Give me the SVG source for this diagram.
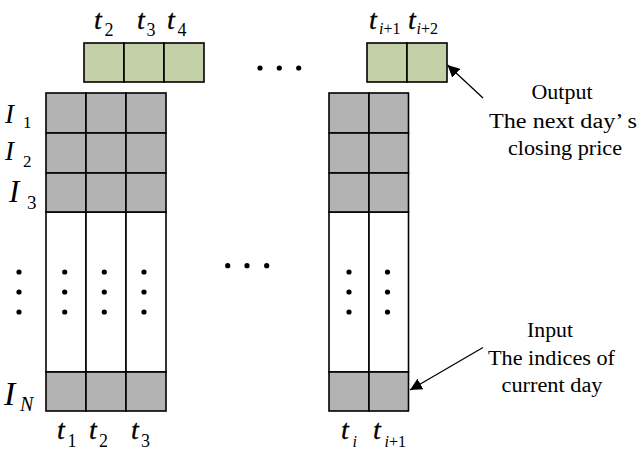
<svg xmlns="http://www.w3.org/2000/svg" width="639" height="451" viewBox="0 0 639 451">
<defs>
<style>
.g{fill:#b3b3b3;stroke:#000;stroke-width:1.6}
.w{fill:#fff;stroke:#000;stroke-width:1.6}
.gr{fill:#c4d1a8;stroke:#000;stroke-width:1.6}
.m{font-family:"Liberation Serif","Times New Roman",serif;font-style:italic;fill:#000}
.t{font-family:"Liberation Serif","Times New Roman",serif;font-style:italic;fill:#000;font-size:28px;stroke:#000;stroke-width:0.3}
.n{font-family:"Liberation Serif","Times New Roman",serif;font-style:normal;fill:#000}
.lbl{font-family:"Liberation Serif","Times New Roman",serif;font-size:20px;fill:#000;text-anchor:middle}
.d{fill:#000}
.c{stroke:#000;stroke-width:1.3;fill:none}
</style>
<marker id="ah" viewBox="0 0 10 10" refX="10" refY="5" markerWidth="12" markerHeight="12" markerUnits="userSpaceOnUse" orient="auto">
<path d="M0,0 L10,5 L0,10 z" fill="#000"/>
</marker>
</defs>
<rect width="639" height="451" fill="#fff"/>

<g id="output-left">
<rect class="gr" x="84" y="43" width="40" height="39"/>
<rect class="gr" x="124" y="43" width="40" height="39"/>
<rect class="gr" x="164" y="43" width="40" height="39"/>
</g>
<g id="output-right">
<rect class="gr" x="367" y="43" width="40" height="39"/>
<rect class="gr" x="407" y="43" width="40" height="39"/>
</g>

<g id="input-left">
<rect class="w" x="46" y="212" width="40" height="160"/>
<rect class="w" x="86" y="212" width="40" height="160"/>
<rect class="w" x="126" y="212" width="40" height="160"/>
<rect class="g" x="46" y="93" width="40" height="40"/>
<rect class="g" x="86" y="93" width="40" height="40"/>
<rect class="g" x="126" y="93" width="40" height="40"/>
<rect class="g" x="46" y="133" width="40" height="40"/>
<rect class="g" x="86" y="133" width="40" height="40"/>
<rect class="g" x="126" y="133" width="40" height="40"/>
<rect class="g" x="46" y="173" width="40" height="39"/>
<rect class="g" x="86" y="173" width="40" height="39"/>
<rect class="g" x="126" y="173" width="40" height="39"/>
<rect class="g" x="46" y="372" width="40" height="39"/>
<rect class="g" x="86" y="372" width="40" height="39"/>
<rect class="g" x="126" y="372" width="40" height="39"/>
<circle class="d" cx="64.7" cy="272" r="2.6"/><circle class="d" cx="64.7" cy="292" r="2.6"/><circle class="d" cx="64.7" cy="312" r="2.6"/>
<circle class="d" cx="104.3" cy="272" r="2.6"/><circle class="d" cx="104.3" cy="292" r="2.6"/><circle class="d" cx="104.3" cy="312" r="2.6"/>
<circle class="d" cx="144" cy="272" r="2.6"/><circle class="d" cx="144" cy="292" r="2.6"/><circle class="d" cx="144" cy="312" r="2.6"/>
</g>

<g id="input-right">
<rect class="w" x="329" y="212" width="40" height="160"/>
<rect class="w" x="369" y="212" width="39.5" height="160"/>
<rect class="g" x="329" y="93" width="40" height="40"/>
<rect class="g" x="369" y="93" width="39.5" height="40"/>
<rect class="g" x="329" y="133" width="40" height="40"/>
<rect class="g" x="369" y="133" width="39.5" height="40"/>
<rect class="g" x="329" y="173" width="40" height="39"/>
<rect class="g" x="369" y="173" width="39.5" height="39"/>
<rect class="g" x="329" y="372" width="40" height="39"/>
<rect class="g" x="369" y="372" width="39.5" height="39"/>
<circle class="d" cx="349" cy="272" r="2.6"/><circle class="d" cx="349" cy="292" r="2.6"/><circle class="d" cx="349" cy="312" r="2.6"/>
<circle class="d" cx="387.5" cy="272" r="2.6"/><circle class="d" cx="387.5" cy="292" r="2.6"/><circle class="d" cx="387.5" cy="312" r="2.6"/>
</g>

<g id="ellipses">
<circle class="d" cx="19" cy="272" r="2.6"/><circle class="d" cx="19" cy="292" r="2.6"/><circle class="d" cx="19" cy="312" r="2.6"/>
<circle class="d" cx="260" cy="68" r="2.6"/><circle class="d" cx="279.3" cy="68" r="2.6"/><circle class="d" cx="298.7" cy="68" r="2.6"/>
<circle class="d" cx="227.7" cy="265.7" r="2.6"/><circle class="d" cx="247" cy="265.7" r="2.6"/><circle class="d" cx="266.7" cy="265.7" r="2.6"/>
</g>

<g id="top-labels">
<text class="t" x="94" y="29">t</text><text class="n" x="104.5" y="36" font-size="18">2</text>
<text class="t" x="137" y="29">t</text><text class="n" x="146.5" y="36" font-size="18">3</text>
<text class="t" x="167" y="29">t</text><text class="n" x="177.5" y="36" font-size="18">4</text>
<text class="t" x="369" y="29">t</text><text x="379" y="34" font-size="16"><tspan class="m">i</tspan><tspan class="n">+1</tspan></text>
<text class="t" x="408" y="29">t</text><text x="416.5" y="34" font-size="16"><tspan class="m">i</tspan><tspan class="n">+2</tspan></text>
</g>

<g id="bottom-labels">
<text class="t" x="57" y="439">t</text><text class="n" x="67.5" y="447" font-size="18">1</text>
<text class="t" x="89" y="439">t</text><text class="n" x="99" y="447" font-size="18">2</text>
<text class="t" x="131" y="439">t</text><text class="n" x="141" y="447" font-size="18">3</text>
<text class="t" x="341" y="439">t</text><text class="m" x="352.5" y="447" font-size="16">i</text>
<text class="t" x="373" y="439">t</text><text x="384.5" y="447" font-size="16"><tspan class="m">i</tspan><tspan class="n">+1</tspan></text>
</g>

<g id="row-labels">
<text class="m" x="5" y="123" font-size="27">I</text><text class="n" x="23" y="128" font-size="17">1</text>
<text class="m" x="5" y="160" font-size="27">I</text><text class="n" x="23" y="167" font-size="17">2</text>
<text class="m" x="9" y="202" font-size="31">I</text><text class="n" x="27" y="209" font-size="19">3</text>
<text class="m" x="4" y="404.5" font-size="34">I</text><text class="m" x="20" y="411" font-size="20">N</text>
</g>

<g id="output-note">
<text class="lbl" x="562" y="99" textLength="61" lengthAdjust="spacingAndGlyphs">Output</text>
<text class="lbl" x="563" y="128" textLength="148" lengthAdjust="spacingAndGlyphs">The next day’ s</text>
<text class="lbl" x="565" y="155" textLength="114" lengthAdjust="spacingAndGlyphs">closing price</text>
</g>
<g id="input-note">
<text class="lbl" x="550" y="337" textLength="46" lengthAdjust="spacingAndGlyphs">Input</text>
<text class="lbl" x="551.5" y="365" textLength="127" lengthAdjust="spacingAndGlyphs">The indices of</text>
<text class="lbl" x="552" y="392" textLength="101" lengthAdjust="spacingAndGlyphs">current day</text>
</g>

<g id="connectors">
<line class="c" x1="483" y1="98" x2="447.5" y2="65" marker-end="url(#ah)"/>
<line class="c" x1="483" y1="347.5" x2="410" y2="390" marker-end="url(#ah)"/>
</g>
</svg>
